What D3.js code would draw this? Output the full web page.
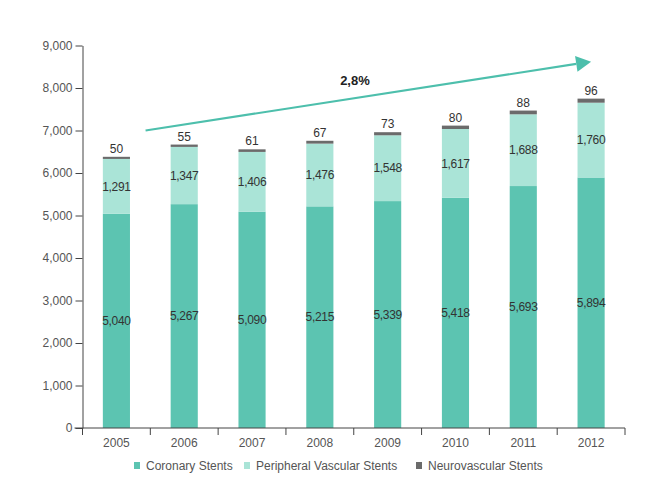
<!DOCTYPE html>
<html>
<head>
<meta charset="utf-8">
<script src="https://cdn.jsdelivr.net/npm/d3@7"></script>
<style>
  body { margin: 0; background: #fff; }
  svg { display: block; font-family: 'Liberation Sans', Arial, sans-serif; }
</style>
</head>
<body>
<svg id="chart" width="661" height="480"></svg>
<script>
const years = ['2005', '2006', '2007', '2008', '2009', '2010', '2011', '2012'];
const coronary = [5040, 5267, 5090, 5215, 5339, 5418, 5693, 5894];
const peripheral = [1291, 1347, 1406, 1476, 1548, 1617, 1688, 1760];
const neuro = [50, 55, 61, 67, 73, 80, 88, 96];
const seriesNames = ['Coronary Stents', 'Peripheral Vascular Stents', 'Neurovascular Stents'];
const yTicks = [0, 1000, 2000, 3000, 4000, 5000, 6000, 7000, 8000, 9000];
// growth arrow: from just before 2006 at 7,000 to mid 2012 at ~8,620
const trendLabel = '2,8%';
const trendFrom = { year: '2005', offset: 0.93, value: 7000 };
const trendTo = { year: '2012', offset: 0.5, value: 8620 };

const colors = ['#5cc4b1', '#aae4d7', '#6b6b6b'];
const w = 661;
const h = 480;
const margin = { top: 45.5, right: 36, bottom: 52, left: 82.5 };

const svg = d3.select('#chart');

const xScale = d3.scaleBand()
  .domain(years)
  .range([margin.left, w - margin.right])
  .paddingInner(0)
  .paddingOuter(0);
const yScale = d3.scaleLinear()
  .domain([0, 9000])
  .range([h - margin.bottom, margin.top]);

const table = years.map((y, i) => ({ year: y, c: coronary[i], p: peripheral[i], n: neuro[i] }));
const stack = d3.stack().keys(['c', 'p', 'n'])(table);

const barW = xScale.bandwidth() * 0.4;
const barX = (d) => xScale(d.data.year) + (xScale.bandwidth() - barW) / 2;

// bars
svg.append('g').selectAll('g')
  .data(stack)
  .enter()
  .append('g')
  .attr('fill', (d, i) => colors[i])
  .selectAll('rect')
  .data((d) => d)
  .enter()
  .append('rect')
  .attr('x', barX)
  .attr('y', (d) => yScale(d[1]))
  .attr('width', barW)
  .attr('height', (d) => yScale(d[0]) - yScale(d[1]));

const fmt = d3.format(',');

// values inside the bars
[0, 1].forEach((k) => {
  svg.append('g').selectAll('text')
    .data(stack[k])
    .enter()
    .append('text')
    .attr('x', (d) => xScale(d.data.year) + xScale.bandwidth() / 2)
    .attr('y', (d) => (yScale(d[0]) + yScale(d[1])) / 2)
    .attr('dy', '0.35em')
    .attr('text-anchor', 'middle')
    .attr('fill', '#333')
    .style('font-size', '12px')
    .style('letter-spacing', '-0.3px')
    .text((d) => fmt(d[1] - d[0]));
});

// neuro values above the bars
svg.append('g').selectAll('text')
  .data(stack[2])
  .enter()
  .append('text')
  .attr('x', (d) => xScale(d.data.year) + xScale.bandwidth() / 2)
  .attr('y', (d) => yScale(d[1]) - 4)
  .attr('text-anchor', 'middle')
  .attr('fill', '#333')
  .style('font-size', '12px')
  .text((d) => fmt(d[1] - d[0]));

// y axis
const yAxis = svg.append('g')
  .attr('transform', `translate(${margin.left}, 0)`)
  .call(d3.axisLeft(yScale).tickValues(yTicks).tickFormat(fmt).tickSize(7).tickSizeOuter(0).tickPadding(3));
yAxis.select('.domain').attr('stroke', '#444');
yAxis.selectAll('line').attr('stroke', '#444');
yAxis.selectAll('text').attr('fill', '#555').style('font-size', '12px').style('font-family', "'Liberation Sans', Arial, sans-serif");

// x axis with ticks on band boundaries
const xAxis = svg.append('g')
  .attr('transform', `translate(0, ${h - margin.bottom})`);
xAxis.append('line')
  .attr('x1', margin.left - 8)
  .attr('x2', w - margin.right)
  .attr('stroke', '#444');
xAxis.selectAll('.tick')
  .data(years.concat(['end']))
  .enter()
  .append('line')
  .attr('class', 'tick')
  .attr('x1', (d) => d === 'end' ? w - margin.right : xScale(d))
  .attr('x2', (d) => d === 'end' ? w - margin.right : xScale(d))
  .attr('y1', 0)
  .attr('y2', 7)
  .attr('stroke', '#444');
xAxis.selectAll('text')
  .data(years)
  .enter()
  .append('text')
  .attr('x', (d) => xScale(d) + xScale.bandwidth() / 2)
  .attr('y', 19)
  .attr('text-anchor', 'middle')
  .attr('fill', '#555')
  .style('font-size', '12px')
  .text((d) => d);

// trend arrow
const ax1 = xScale(trendFrom.year) + xScale.bandwidth() * trendFrom.offset;
const ay1 = yScale(trendFrom.value);
const ax2 = xScale(trendTo.year) + xScale.bandwidth() * trendTo.offset;
const ay2 = yScale(trendTo.value);
const ang = Math.atan2(ay2 - ay1, ax2 - ax1);
const headLen = 15;
const headHalf = 8;
const bx = ax2 - headLen * Math.cos(ang);
const by = ay2 - headLen * Math.sin(ang);
svg.append('line')
  .attr('x1', ax1).attr('y1', ay1)
  .attr('x2', bx).attr('y2', by)
  .attr('stroke', '#4dbfac')
  .attr('stroke-width', 2.2);
svg.append('path')
  .attr('d', d3.line()([
    [ax2, ay2],
    [bx + headHalf * Math.sin(ang), by - headHalf * Math.cos(ang)],
    [bx - headHalf * Math.sin(ang), by + headHalf * Math.cos(ang)]
  ]) + 'Z')
  .attr('fill', '#4dbfac');
svg.append('text')
  .attr('x', ax1 + (ax2 - ax1) * 0.47)
  .attr('y', ay1 + (ay2 - ay1) * 0.47 - 13)
  .attr('text-anchor', 'middle')
  .attr('fill', '#222')
  .style('font-size', '13px')
  .style('font-weight', 'bold')
  .text(trendLabel);

// legend
const legendX = [134, 244, 416];
const legend = svg.append('g').attr('transform', `translate(0, ${h - 14})`);
seriesNames.forEach((name, i) => {
  legend.append('rect')
    .attr('x', legendX[i])
    .attr('y', -4)
    .attr('width', 6)
    .attr('height', 7)
    .attr('fill', colors[i]);
  legend.append('text')
    .attr('x', legendX[i] + 12)
    .attr('y', 0)
    .attr('dy', '0.35em')
    .attr('fill', '#555')
    .style('font-size', '12px')
    .text(name);
});
</script>
</body>
</html>
